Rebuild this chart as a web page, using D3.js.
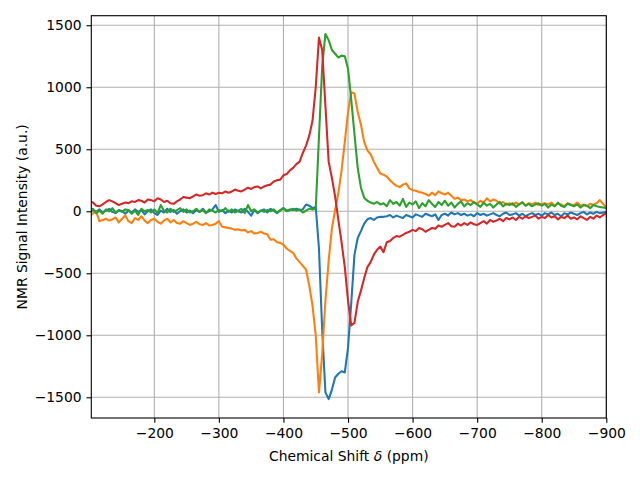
<!DOCTYPE html>
<html>
<head>
<meta charset="utf-8">
<script src="https://cdn.jsdelivr.net/npm/d3@7"></script>
<style>
  html, body { margin: 0; padding: 0; background: #fff; }
  svg { display: block; font-family: "DejaVu Sans", sans-serif; }
</style>
</head>
<body>
<div id="chart"></div>
<script>
// Chemical shift sampling (ppm): -100 ... -900, step 5
const shifts = d3.range(161).map(i => -100 - 5 * i);

const xTicks = [-200, -300, -400, -500, -600, -700, -800, -900];
const yTicks = [-1500, -1000, -500, 0, 500, 1000, 1500];

const seriesBlue = [
  0, 10, -5, 15, -10, 5, 20, -5, -15, 10,
  0, -20, 5, -10, 15, -5, 10, -25, 0, 15,
  -15, -30, 5, -10, 20, -5, 10, -20, 0, 15,
  -10, 5, -15, 10, -5, 20, -10, 0, 15, 50,
  -5, 10, -15, 5, -10, 15, 0, -10, 20, -5,
  -35, 10, -15, 5, 15, -10, 20, 5, -15, 10,
  25, 5, 15, 10, 20, 10, 15, 55, 45, 25,
  35, -300, -960, -1460, -1515, -1440, -1340, -1310, -1290, -1300,
  -1100, -740, -350, -215, -160, -100, -65, -55, -70, -50,
  -45, -45, -40, -30, -50, -35, -45, -55, -30, -40,
  -50, -25, -35, -45, -20, -30, -40, -25, -70, -30,
  -20, -35, -10, -25, -15, -30, -20, -35, -25, -40,
  -15, -30, -20, -35, -25, -15, -30, -40, -20, -10,
  -30, -25, -15, -35, -20, -40, -25, -15, -30, -20,
  -35, -15, -25, -10, -30, -20, -40, -15, -25, -10,
  -20, -30, -15, -5, -25, -10, -20, -5, -15, -10,
  -5
];

const seriesOrange = [
  -40, -15, -5, -80, -70, -60, -75, -65, -50, -90,
  -60, -35, -80, -95, -55, -70, -40, -75, -95, -70,
  -60, -85, -100, -75, -60, -90, -70, -95, -100, -80,
  -95, -110, -100, -85, -105, -110, -95, -115, -110, -100,
  -80, -125, -130, -135, -140, -150, -145, -155, -150, -170,
  -160, -180, -175, -165, -180, -185, -230, -225, -250, -255,
  -270, -300, -320, -335, -380, -410, -440, -470, -600, -760,
  -1000, -1460, -1150, -720, -400, -140, 10, 145, 330, 560,
  800, 960, 950, 800, 700, 560, 490, 460, 400, 350,
  305, 295, 280, 250, 225, 205, 195, 215, 225, 185,
  170, 165, 155, 150, 140, 125, 150, 130, 160, 145,
  135, 150, 125, 100, 110, 90, 95, 80, 90, 70,
  60, 85, 70, 105, 80, 95, 85, 60, 75, 55,
  65, 50, 70, 55, 75, 45, 65, 55, 70, 50,
  60, 65, 55, 70, 45, 60, 55, 40, 65, 55,
  50, 70, 45, 55, 40, 60, 50, 65, 90, 60,
  30
];

const seriesGreen = [
  10, 20, -15, 5, -20, 15, 0, 25, -10, 5,
  -5, 15, 10, -20, 5, -30, 20, 0, 10, -10,
  15, -15, 50, 5, -10, 20, -5, 10, 25, -5,
  15, -10, 0, 20, -5, 10, -15, 15, 5, -10,
  10, 0, 25, -5, 15, -10, 5, 20, -15, 50,
  0, 15, -10, 5, -5, 10, 0, 15, -10, 5,
  25, 0, 10, 20, 5, 15, -10, 5, 20, 15,
  20, 600, 1170, 1430, 1380, 1300, 1270, 1240, 1255, 1250,
  1150, 900, 620, 350, 190, 110, 85, 70, 60, 75,
  55, 65, 40, 90, 60, 75, 45, 100, 35, 70,
  55, 80, 25, 65, 40, 90, 60, 35, 75, 50,
  85, 45, 70, 30, 60, 80, 40, 65, 50, 75,
  55, 35, 70, 45, 60, 30, 55, 75, 40, 60,
  50, 65, 35, 55, 70, 45, 60, 40, 55, 65,
  45, 60, 30, 55, 40, 70, 45, 35, 60, 50,
  40, 55, 30, 50, 45, 25, 50, 40, 35, 30,
  25
];

const seriesRed = [
  80, 70, 45, 40, 55, 75, 90, 80, 65, 50,
  60, 70, 65, 80, 75, 90, 85, 70, 95, 90,
  80, 105, 95, 75, 85, 65, 60, 80, 95, 115,
  110, 105, 120, 135, 125, 130, 145, 135, 150, 140,
  150, 145, 160, 150, 160, 175, 165, 160, 175, 190,
  180, 195, 200, 185, 200, 210, 215, 240, 250, 255,
  290, 300, 330, 350, 380, 400, 470, 530, 610, 730,
  1000, 1400, 1300, 850, 400, 270, 120, -70, -250, -450,
  -720, -920, -900, -730, -640, -540, -450, -410, -350, -310,
  -285, -330, -250, -240, -215, -200, -205, -190, -175, -165,
  -150, -160, -135, -145, -165, -150, -135, -140, -115, -125,
  -110, -95, -120, -125, -100, -115, -95, -110, -90, -105,
  -110, -95, -80, -100, -70, -85, -75, -60, -80, -55,
  -65, -50, -70, -45, -60, -40, -55, -45, -35, -60,
  -45, -55, -30, -50, -40, -65, -45, -55, -35, -60,
  -50, -65, -40, -55, -70, -45, -60, -35, -50, -30,
  -15
];

const seriesColors = ["#1f77b4", "#ff7f0e", "#2ca02c", "#d62728"];
const allSeries = [seriesBlue, seriesOrange, seriesGreen, seriesRed];

const W = 640, H = 480;
const plot = { left: 91.3, right: 606.3, top: 15.7, bottom: 418 };

const svg = d3.select("#chart").append("svg")
  .attr("width", W).attr("height", H);

const x = d3.scaleLinear().domain([-102.4, -900]).range([plot.left, plot.right]);
const y = d3.scaleLinear().domain([-1667, 1577]).range([plot.bottom, plot.top]);

// grid
const grid = svg.append("g");
grid.selectAll("line.vx").data(xTicks).join("line")
  .attr("x1", d => x(d)).attr("x2", d => x(d))
  .attr("y1", plot.top).attr("y2", plot.bottom)
  .attr("stroke", "#b0b0b0").attr("stroke-width", 1.1);
grid.selectAll("line.hy").data(yTicks).join("line")
  .attr("x1", plot.left).attr("x2", plot.right)
  .attr("y1", d => y(d)).attr("y2", d => y(d))
  .attr("stroke", "#b0b0b0").attr("stroke-width", 1.1);

// clip
svg.append("clipPath").attr("id", "clip").append("rect")
  .attr("x", plot.left).attr("y", plot.top)
  .attr("width", plot.right - plot.left).attr("height", plot.bottom - plot.top);

const line = d3.line().x((d, i) => x(shifts[i])).y(d => y(d));
const lines = svg.append("g").attr("clip-path", "url(#clip)");
allSeries.forEach((s, k) => {
  lines.append("path").datum(s)
    .attr("d", line)
    .attr("fill", "none")
    .attr("stroke", seriesColors[k])
    .attr("stroke-width", 2.08)
    .attr("stroke-linejoin", "round")
    .attr("stroke-linecap", "square");
});

// axes
const fmt = d => (d < 0 ? "\u2212" + Math.abs(d) : String(d));
const xAxis = d3.axisBottom(x).tickValues(xTicks).tickSize(4.86).tickPadding(4.86).tickFormat(fmt);
const yAxis = d3.axisLeft(y).tickValues(yTicks).tickSize(4.86).tickPadding(4.86).tickFormat(fmt);

const gx = svg.append("g").attr("transform", `translate(0,${plot.bottom})`).call(xAxis);
const gy = svg.append("g").attr("transform", `translate(${plot.left},0)`).call(yAxis);
[gx, gy].forEach(g => {
  g.select(".domain").remove();
  g.selectAll(".tick line").attr("stroke", "#000").attr("stroke-width", 1.1);
  g.selectAll(".tick text").attr("fill", "#000")
    .style("font-family", "'DejaVu Sans', sans-serif").style("font-size", "13.89px");
});

// spines
svg.append("rect")
  .attr("x", plot.left).attr("y", plot.top)
  .attr("width", plot.right - plot.left).attr("height", plot.bottom - plot.top)
  .attr("fill", "none").attr("stroke", "#000").attr("stroke-width", 1.1);

// axis labels
const xl = svg.append("text")
  .attr("x", (plot.left + plot.right) / 2).attr("y", 460.5)
  .attr("text-anchor", "middle")
  .style("font-size", "13.89px").attr("fill", "#000");
xl.append("tspan").text("Chemical Shift ");
xl.append("tspan").style("font-style", "italic").text("\u03B4");
xl.append("tspan").text(" (ppm)");

svg.append("text")
  .attr("transform", `translate(26.5,${(plot.top + plot.bottom) / 2}) rotate(-90)`)
  .attr("text-anchor", "middle")
  .style("font-size", "13.89px").attr("fill", "#000")
  .text("NMR Signal Intensity (a.u.)");
</script>
</body>
</html>
